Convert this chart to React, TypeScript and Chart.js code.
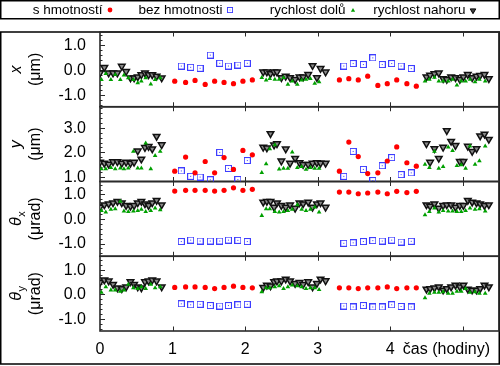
import React, { useEffect, useRef } from 'react';
import { Chart, registerables } from 'chart.js';

Chart.register(...registerables);

// ---- time (hours) of each measurement ----
const casNahoru = [
  0.0, 0.06, 0.12, 0.18, 0.24, 0.3, 0.36, 0.42, 0.47, 0.52, 0.57, 0.62, 0.67, 0.72, 0.78, 0.85,
  2.25, 2.3, 2.35, 2.4, 2.44, 2.5, 2.56, 2.62, 2.69, 2.75, 2.8, 2.87, 2.93, 2.99, 3.04, 3.11,
  4.5, 4.55, 4.61, 4.67, 4.73, 4.78, 4.84, 4.9, 4.96, 5.01, 5.07, 5.13, 5.19, 5.24, 5.3, 5.36,
];
const casDolu = [
  0.02, 0.08, 0.15, 0.21, 0.28, 0.33, 0.39, 0.46, 0.52, 0.57, 0.63, 0.7, 0.76, 0.83,
  2.23, 2.29, 2.34, 2.41, 2.47, 2.53, 2.59, 2.65, 2.72, 2.78, 2.84, 2.9, 2.96, 3.02,
  4.48, 4.54, 4.61, 4.67, 4.73, 4.8, 4.86, 4.92, 4.98, 5.04, 5.1, 5.17, 5.23, 5.31,
];
const casS = [1.03, 1.18, 1.31, 1.45, 1.58, 1.71, 1.84, 1.97, 2.1, 3.3, 3.43, 3.56, 3.69, 3.83, 3.96, 4.09, 4.23, 4.36];
const casBez = [1.12, 1.25, 1.38, 1.52, 1.65, 1.77, 1.9, 2.03, 3.36, 3.49, 3.63, 3.76, 3.89, 4.02, 4.15, 4.29];

// ---- panel 1: x (um) ----
const xS = [-0.45, -0.5, -0.42, -0.58, -0.45, -0.5, -0.55, -0.45, -0.4, -0.4, -0.35, -0.4, -0.25, -0.62, -0.55, -0.4, -0.55, -0.65];
const xBez = [0.16, 0.11, 0.07, 0.6, 0.27, 0.16, 0.2, 0.27, 0.16, 0.26, 0.22, 0.49, 0.22, 0.26, 0.16, 0.06];
const xDolu = [
  -0.39, -0.15, -0.39, -0.19, -0.39, -0.21, -0.32, -0.39, -0.52, -0.45, -0.32, -0.57, -0.39, -0.32,
  -0.31, -0.41, -0.35, -0.38, -0.38, -0.31, -0.58, -0.45, -0.58, -0.41, -0.38, -0.35, -0.54, -0.48,
  -0.45, -0.38, -0.3, -0.45, -0.45, -0.45, -0.38, -0.61, -0.45, -0.45, -0.38, -0.48, -0.38, -0.45,
];
const xNahoru = [
  -0.12, 0.1, -0.12, -0.12, -0.12, 0.15, -0.06, -0.32, -0.32, -0.28, -0.19, -0.12, -0.19, -0.19, -0.25, -0.32,
  -0.08, -0.08, -0.15, -0.08, -0.08, -0.31, -0.25, -0.31, -0.38, -0.28, -0.28, -0.18, 0.18, -0.31, 0.06, -0.08,
  -0.28, -0.21, -0.15, -0.12, -0.35, -0.38, -0.28, -0.31, -0.38, -0.28, -0.18, -0.31, -0.25, -0.22, -0.18, -0.35,
];

// ---- panel 2: y (um) ----
const yS = [1.24, 1.81, 1.17, 1.63, 1.17, 1.79, 1.31, 2.08, 1.9, 1.24, 2.42, 1.83, 1.14, 1.17, 1.65, 2.22, 1.58, 1.44];
const yBez = [1.25, 1.03, 1.0, 0.89, 2.0, 1.35, 0.9, 1.67, 1.03, 2.04, 1.31, 0.86, 1.46, 1.79, 1.1, 1.17];
const yDolu = [
  1.33, 1.33, 1.38, 1.33, 1.36, 1.33, 1.36, 2.04, 1.36, 1.36, 2.37, 1.33, 1.87, 2.04,
  1.18, 1.53, 2.14, 2.3, 1.32, 1.35, 1.35, 2.01, 1.38, 1.42, 1.31, 1.38, 1.35, 1.35,
  1.51, 1.38, 2.04, 1.35, 1.42, 2.21, 2.07, 1.46, 1.49, 1.35, 2.25, 1.51, 1.65, 2.25,
];
const yNahoru = [
  1.6, 1.56, 1.52, 1.62, 1.62, 1.56, 1.6, 1.56, 1.6, 2.06, 1.73, 2.2, 2.24, 2.14, 2.65, 2.31,
  2.21, 2.18, 2.76, 2.3, 2.35, 1.65, 2.14, 1.56, 1.76, 1.58, 1.51, 1.51, 1.56, 1.58, 1.56, 1.56,
  2.35, 1.6, 2.15, 1.76, 2.21, 2.88, 2.45, 2.28, 1.63, 1.63, 2.25, 2.04, 2.15, 2.67, 2.74, 2.53,
];

// ---- panel 3: theta_x (urad) ----
const txS = [1.14, 1.17, 1.17, 1.17, 1.14, 1.17, 1.27, 1.17, 1.21, 1.1, 1.1, 1.03, 1.06, 1.1, 1.03, 1.13, 1.08, 1.13];
const txBez = [-0.92, -0.86, -0.9, -0.9, -0.9, -0.86, -0.87, -0.92, -0.99, -0.97, -0.92, -0.88, -0.9, -0.86, -0.94, -0.91];
const txDolu = [
  0.34, 0.28, 0.39, 0.41, 0.72, 0.32, 0.3, 0.32, 0.34, 0.39, 0.3, 0.34, 0.44, 0.37,
  0.14, 0.41, 0.41, 0.3, 0.28, 0.3, 0.34, 0.39, 0.58, 0.39, 0.34, 0.39, 0.48, 0.28,
  0.17, 0.3, 0.44, 0.28, 0.34, 0.32, 0.32, 0.3, 0.3, 0.34, 0.44, 0.39, 0.41, 0.32,
];
const txNahoru = [
  0.48, 0.58, 0.62, 0.66, 0.72, 0.66, 0.55, 0.52, 0.55, 0.66, 0.72, 0.62, 0.55, 0.66, 0.76, 0.58,
  0.69, 0.72, 0.72, 0.48, 0.66, 0.55, 0.48, 0.58, 0.44, 0.66, 0.62, 0.69, 0.48, 0.62, 0.66, 0.48,
  0.58, 0.52, 0.62, 0.44, 0.55, 0.58, 0.58, 0.48, 0.55, 0.55, 0.76, 0.69, 0.66, 0.62, 0.55, 0.58,
];

// ---- panel 4: theta_y (urad) ----
const tyS = [0.28, 0.3, 0.3, 0.28, 0.23, 0.28, 0.33, 0.28, 0.26, 0.26, 0.26, 0.23, 0.26, 0.26, 0.3, 0.23, 0.26, 0.26];
const tyBez = [-0.39, -0.43, -0.41, -0.46, -0.48, -0.46, -0.43, -0.41, -0.48, -0.52, -0.46, -0.52, -0.52, -0.43, -0.5, -0.52];
const tyDolu = [
  0.07, 0.3, 0.17, 0.17, 0.12, 0.17, 0.4, 0.26, 0.23, 0.3, 0.23, 0.4, 0.26, 0.3,
  0.1, 0.26, 0.26, 0.3, 0.34, 0.23, 0.3, 0.37, 0.34, 0.3, 0.23, 0.26, 0.26, 0.19,
  -0.15, 0.03, 0.07, 0.07, 0.1, 0.03, 0.03, 0.12, 0.12, 0.23, 0.07, 0.1, 0.03, 0.03,
];
const tyNahoru = [
  0.48, 0.58, 0.54, 0.4, 0.26, 0.23, 0.3, 0.51, 0.4, 0.3, 0.26, 0.51, 0.54, 0.58, 0.54, 0.3,
  0.28, 0.37, 0.34, 0.51, 0.54, 0.54, 0.62, 0.54, 0.44, 0.48, 0.4, 0.51, 0.3, 0.44, 0.62, 0.55,
  0.21, 0.23, 0.26, 0.3, 0.17, 0.23, 0.3, 0.37, 0.3, 0.37, 0.21, 0.17, 0.17, 0.23, 0.37, 0.3,
];

// ---- labels / ticks ----
const seriesLabels = ['s hmotností', 'bez hmotnosti', 'rychlost dolů', 'rychlost nahoru'];
const xTickLabels = ['0', '1', '2', '3', '4'];
const xTickMarks = [1, 2, 3, 4, 5];
const xTitle = 'čas (hodiny)';
const yTicks1 = [-1, 0, 1];
const yTicks2 = [1, 2, 3];
const yTicks3 = [-1, 0, 1];
const yTicks4 = [-1, 0, 1];

const FONT = '"Liberation Sans", Arial, Helvetica, sans-serif';
const RED = '#ff0000';
const BLUE = '#3d3dff';
const GREEN = '#00a000';

const zip = (xs: number[], ys: number[]) => xs.map((x, i) => ({ x, y: ys[i] }));

function makeSquare(): HTMLCanvasElement {
  const c = document.createElement('canvas');
  c.width = 7;
  c.height = 7;
  const g = c.getContext('2d')!;
  g.strokeStyle = BLUE;
  g.lineWidth = 1;
  g.strokeRect(0.5, 0.5, 6, 6);
  g.fillStyle = BLUE;
  g.fillRect(3, 3, 1, 1);
  return c;
}

type Panel = {
  id: string;
  min: number;
  max: number;
  ticks: number[];
  name: string;
  sub?: string;
  unit: string;
  s: number[];
  bez: number[];
  dolu: number[];
  nahoru: number[];
};

const panels: Panel[] = [
  { id: 'y1', min: -1.48, max: 1.53, ticks: yTicks1, name: 'x', unit: '(μm)', s: xS, bez: xBez, dolu: xDolu, nahoru: xNahoru },
  { id: 'y2', min: 0.82, max: 3.85, ticks: yTicks2, name: 'y', unit: '(μm)', s: yS, bez: yBez, dolu: yDolu, nahoru: yNahoru },
  { id: 'y3', min: -1.52, max: 1.53, ticks: yTicks3, name: 'θ', sub: 'x', unit: '(μrad)', s: txS, bez: txBez, dolu: txDolu, nahoru: txNahoru },
  { id: 'y4', min: -1.5, max: 1.55, ticks: yTicks4, name: 'θ', sub: 'y', unit: '(μrad)', s: tyS, bez: tyBez, dolu: tyDolu, nahoru: tyNahoru },
];

function drawTri(ctx: CanvasRenderingContext2D, x: number, y: number, r: number, down: boolean) {
  const s = down ? -1 : 1;
  ctx.beginPath();
  ctx.moveTo(x, y - s * r);
  ctx.lineTo(x + r * 0.866, y + s * r * 0.5);
  ctx.lineTo(x - r * 0.866, y + s * r * 0.5);
  ctx.closePath();
}

export default function App() {
  const ref = useRef<HTMLCanvasElement>(null);

  useEffect(() => {
    const square = makeSquare();
    const datasets: any[] = [];
    panels.forEach((p) => {
      datasets.push({
        label: seriesLabels[0], yAxisID: p.id, data: zip(casS, p.s),
        pointStyle: 'circle', pointRadius: 2.6, pointBackgroundColor: RED, pointBorderWidth: 0,
      });
      datasets.push({
        label: seriesLabels[1], yAxisID: p.id, data: zip(casBez, p.bez),
        pointStyle: square, pointRadius: 3.5,
      });
      datasets.push({
        label: seriesLabels[2], yAxisID: p.id, data: zip(casDolu, p.dolu),
        pointStyle: 'triangle', pointRadius: 2.7, pointBackgroundColor: GREEN, pointBorderWidth: 0,
      });
      datasets.push({
        label: seriesLabels[3], yAxisID: p.id, data: zip(casNahoru, p.nahoru),
        pointStyle: 'triangle', pointRotation: 180, pointRadius: 3.8,
        pointBackgroundColor: '#8a8a8a', pointBorderColor: '#111', pointBorderWidth: 1.5,
      });
    });

    const scales: any = {
      x: { type: 'linear', min: 0, max: 5.5, display: false },
    };
    panels.forEach((p, i) => {
      scales[p.id] = {
        type: 'linear', position: 'left', stack: 'panels', stackWeight: 1, weight: 10 - i,
        min: p.min, max: p.max, display: false,
      };
    });

    const deco = {
      id: 'deco',
      beforeDatasetsDraw(chart: any) {
        const ctx: CanvasRenderingContext2D = chart.ctx;
        const area = chart.chartArea;
        const xs = chart.scales.x;
        ctx.save();

        // legend box
        ctx.strokeStyle = '#000';
        ctx.lineWidth = 1.5;
        ctx.strokeRect(0.75, 0.75, 498.5, 18);
        ctx.font = `13.5px ${FONT}`;
        ctx.fillStyle = '#000';
        ctx.textAlign = 'right';
        ctx.textBaseline = 'middle';
        const legX = [110, 230, 353, 473];
        const ly = 10;
        seriesLabels.forEach((lab, i) => ctx.fillText(lab, legX[i] - 7.5, ly + 0.5));
        ctx.fillStyle = RED;
        ctx.beginPath();
        ctx.arc(legX[0], ly, 2.4, 0, Math.PI * 2);
        ctx.fill();
        ctx.drawImage(square, legX[1] - 3, ly - 3, 6, 6);
        ctx.fillStyle = GREEN;
        drawTri(ctx, legX[2], ly + 0.5, 2.4, false);
        ctx.fill();
        ctx.fillStyle = '#444';
        drawTri(ctx, legX[3], ly + 0.5, 3.2, true);
        ctx.fill();
        ctx.strokeStyle = '#000';
        ctx.lineWidth = 1;
        ctx.stroke();

        // outer frame
        ctx.strokeStyle = '#000';
        ctx.lineWidth = 1.5;
        ctx.strokeRect(0.75, area.top, 498.5, 364 - area.top);

        panels.forEach((p) => {
          const ys = chart.scales[p.id];
          const top = ys.top;
          const bottom = ys.bottom;
          ctx.strokeStyle = '#2a2a2a';
          ctx.lineWidth = 1.6;
          ctx.strokeRect(area.left, top, area.right - area.left, bottom - top);

          // y ticks (major every 1, minor every 0.2)
          ctx.lineWidth = 1;
          ctx.beginPath();
          for (let k = Math.ceil(p.min * 5); k <= Math.floor(p.max * 5); k++) {
            const py = Math.round(ys.getPixelForValue(k / 5)) + 0.5;
            const len = k % 5 === 0 ? 5 : 2.5;
            ctx.moveTo(area.left, py);
            ctx.lineTo(area.left + len, py);
          }
          // x ticks (top and bottom, inward)
          xTickMarks.forEach((t) => {
            const px = Math.round(xs.getPixelForValue(t)) + 0.5;
            ctx.moveTo(px, top);
            ctx.lineTo(px, top + 4.5);
            ctx.moveTo(px, bottom);
            ctx.lineTo(px, bottom - 4.5);
          });
          ctx.stroke();

          // y tick labels
          ctx.fillStyle = '#000';
          ctx.font = `16px ${FONT}`;
          ctx.textAlign = 'right';
          ctx.textBaseline = 'middle';
          p.ticks.forEach((v) => {
            ctx.fillText(v.toFixed(1), 86, ys.getPixelForValue(v) + 0.5);
          });

          // rotated axis title
          const cy = (top + bottom) / 2;
          ctx.save();
          ctx.translate(21, cy);
          ctx.rotate(-Math.PI / 2);
          ctx.textBaseline = 'alphabetic';
          ctx.textAlign = 'left';
          ctx.font = `italic 16px ${FONT}`;
          const w1 = ctx.measureText(p.name).width;
          let w2 = 0;
          if (p.sub) {
            ctx.font = `11px ${FONT}`;
            w2 = ctx.measureText(p.sub).width;
          }
          const start = -(w1 + w2) / 2;
          ctx.font = `italic 16px ${FONT}`;
          ctx.fillText(p.name, start, 0);
          if (p.sub) {
            ctx.font = `11px ${FONT}`;
            ctx.fillText(p.sub, start + w1 + 0.5, 3.5);
          }
          ctx.restore();
          ctx.save();
          ctx.translate(40, cy);
          ctx.rotate(-Math.PI / 2);
          ctx.textBaseline = 'alphabetic';
          ctx.textAlign = 'center';
          ctx.font = `16px ${FONT}`;
          ctx.fillText(p.unit, 0, 0);
          ctx.restore();
        });

        // x tick labels and title
        ctx.fillStyle = '#000';
        ctx.font = `16px ${FONT}`;
        ctx.textAlign = 'center';
        ctx.textBaseline = 'middle';
        xTickLabels.forEach((lab, i) => ctx.fillText(lab, xs.getPixelForValue(i), 350));
        ctx.textAlign = 'right';
        ctx.fillText(xTitle, 490, 350);
        ctx.restore();
      },
    };

    const chart = new Chart(ref.current!, {
      type: 'scatter',
      data: { datasets },
      options: {
        animation: false,
        responsive: false,
        events: [],
        layout: { autoPadding: false, padding: { left: 100, right: 1, top: 32, bottom: 35 } },
        plugins: { legend: { display: false }, tooltip: { enabled: false } },
        scales,
      },
      plugins: [deco],
    } as any);
    return () => chart.destroy();
  }, []);

  return (
    <div style={{ position: 'absolute', left: 0, top: 0, width: 500, height: 366, background: '#fff' }}>
      <canvas ref={ref} width={500} height={366} style={{ display: 'block', width: 500, height: 366 }} />
    </div>
  );
}
